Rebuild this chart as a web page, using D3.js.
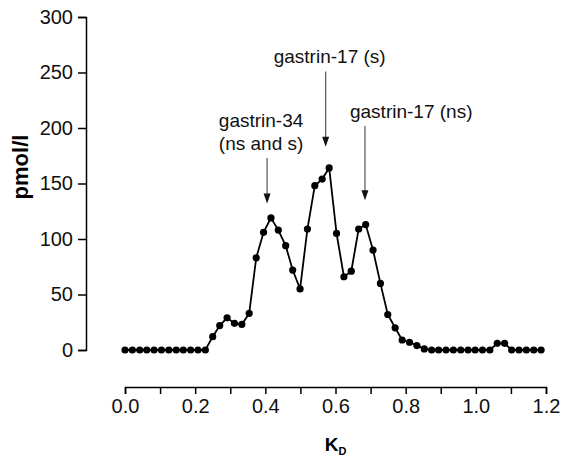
<!DOCTYPE html>
<html>
<head>
<meta charset="utf-8">
<script src="https://cdn.jsdelivr.net/npm/d3@7"></script>
<style>
  body { margin: 0; background: #fff; }
  text { font-family: "Liberation Sans", Arial, sans-serif; }
</style>
</head>
<body>
<div id="chart"></div>
<script>
// fraction K_D values and measured gastrin (pmol/l)
var kd = [0.000, 0.021, 0.042, 0.062, 0.083, 0.104, 0.125, 0.146, 0.166, 0.187,
          0.208, 0.229, 0.250, 0.270, 0.291, 0.312, 0.333, 0.354, 0.374, 0.395,
          0.416, 0.437, 0.458, 0.478, 0.499, 0.520, 0.541, 0.562, 0.582, 0.603,
          0.624, 0.645, 0.666, 0.686, 0.707, 0.728, 0.749, 0.770, 0.790, 0.811,
          0.832, 0.853, 0.874, 0.894, 0.915, 0.936, 0.957, 0.978, 0.998, 1.019,
          1.040, 1.061, 1.082, 1.102, 1.123, 1.144, 1.165, 1.186];
var pmol = [0, 0, 0, 0, 0, 0, 0, 0, 0, 0,
            0, 0, 12, 22, 29, 24, 23, 33, 83, 106,
            119, 108, 94, 72, 55, 109, 148, 154, 164, 105,
            66, 71, 109, 113, 90, 60, 32, 20, 9, 7,
            4, 1, 0, 0, 0, 0, 0, 0, 0, 0,
            0, 6, 6, 0, 0, 0, 0, 0];

var xTicks = [0, 0.1, 0.2, 0.3, 0.4, 0.5, 0.6, 0.7, 0.8, 0.9, 1.0, 1.1, 1.2];
var yTicks = [0, 50, 100, 150, 200, 250, 300];

// annotations: label lines, arrow position (kd), arrow tip / tail (pmol/l), label anchor
var peakLabels = [
  {lines: ["gastrin-34", "(ns and s)"], kd: 0.405, tip: 132, tail: 173, anchor: "middle", dx: -6},
  {lines: ["gastrin-17 (s)"], kd: 0.572, tip: 183, tail: 251, anchor: "middle", dx: 4},
  {lines: ["gastrin-17 (ns)"], kd: 0.684, tip: 135, tail: 202, anchor: "start", dx: -15}
];

var width = 562, height = 460;

var x = d3.scaleLinear().domain([0, 1.2]).range([125, 546]);
var y = d3.scaleLinear().domain([0, 300]).range([350, 17]);

var svg = d3.select("#chart").append("svg")
  .attr("width", width)
  .attr("height", height);

// y axis
var yAxis = svg.append("g")
  .attr("transform", "translate(86,0)")
  .call(d3.axisLeft(y).tickValues(yTicks).tickSize(8).tickPadding(5));

// x axis, detached below the plot
var xAxis = svg.append("g")
  .attr("transform", "translate(0,387)")
  .call(d3.axisBottom(x).tickValues(xTicks).tickSize(7).tickPadding(5)
    .tickFormat(function(d) { return Math.round(d * 10) % 2 === 0 ? d3.format(".1f")(d) : ""; }));

[yAxis, xAxis].forEach(function(a) {
  a.select(".domain").attr("stroke", "#000").attr("stroke-width", 1.5);
  a.selectAll(".tick line").attr("stroke", "#000").attr("stroke-width", 1.5);
  a.selectAll(".tick text").attr("fill", "#111").style("font-size", "20px")
    .style("font-family", "'Liberation Sans', Arial, sans-serif");
});

// axis titles
svg.append("text")
  .attr("transform", "translate(28,167) rotate(-90)")
  .attr("text-anchor", "middle")
  .style("font-size", "22px")
  .style("font-weight", "bold")
  .text("pmol/l");

var xt = svg.append("text")
  .attr("x", x(0.6))
  .attr("y", 451)
  .attr("text-anchor", "middle")
  .style("font-size", "19px")
  .style("font-weight", "bold");
xt.append("tspan").text("K");
xt.append("tspan").attr("dy", 4).style("font-size", "11px").text("D");

// data line and points
var pts = kd.map(function(k, i) { return [k, pmol[i]]; });

svg.append("path")
  .datum(pts)
  .attr("fill", "none")
  .attr("stroke", "#000")
  .attr("stroke-width", 1.8)
  .attr("d", d3.line()
    .x(function(d) { return x(d[0]); })
    .y(function(d) { return y(d[1]); }));

svg.selectAll(".dot")
  .data(pts)
  .enter().append("circle")
  .attr("class", "dot")
  .attr("cx", function(d) { return x(d[0]); })
  .attr("cy", function(d) { return y(d[1]); })
  .attr("r", 3.6)
  .attr("fill", "#000");

// arrow annotations
peakLabels.forEach(function(p) {
  var ax = x(p.kd), yTip = y(p.tip), yTail = y(p.tail);
  svg.append("line")
    .attr("x1", ax).attr("x2", ax)
    .attr("y1", yTail).attr("y2", yTip - 9)
    .attr("stroke", "#555")
    .attr("stroke-width", 1.2);
  svg.append("path")
    .attr("d", "M" + (ax - 3.5) + "," + (yTip - 10) + "L" + (ax + 3.5) + "," + (yTip - 10) + "L" + ax + "," + yTip + "Z")
    .attr("fill", "#111");
  var n = p.lines.length;
  p.lines.forEach(function(s, j) {
    svg.append("text")
      .attr("x", ax + p.dx)
      .attr("y", yTail - 8 - (n - 1 - j) * 23)
      .attr("text-anchor", p.anchor)
      .style("font-size", "19px")
      .attr("fill", "#111")
      .text(s);
  });
});
</script>
</body>
</html>
